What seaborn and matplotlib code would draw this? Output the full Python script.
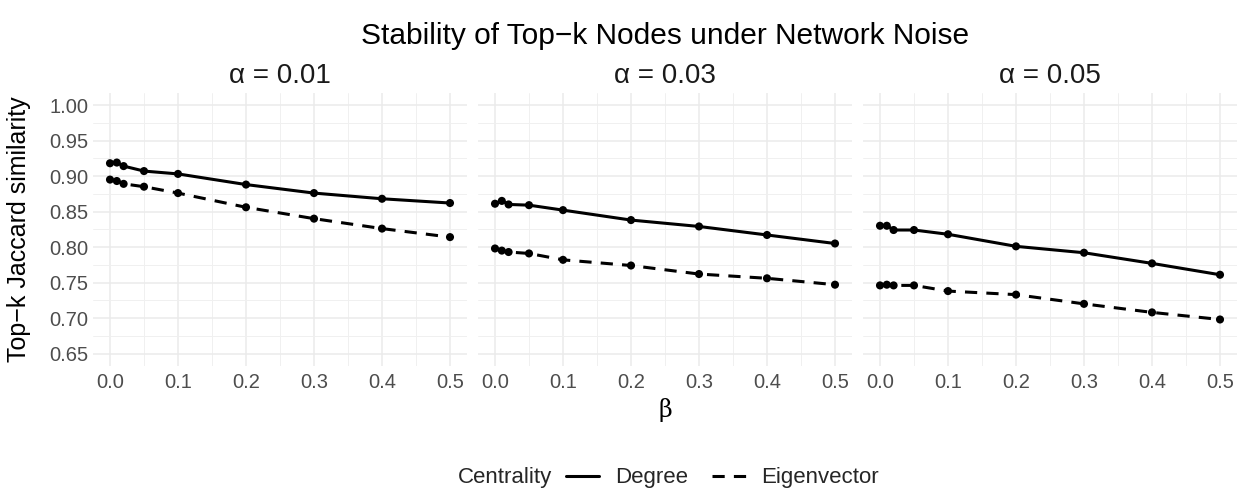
import numpy as np
import pandas as pd
import matplotlib
matplotlib.use("Agg")
import matplotlib.pyplot as plt
from matplotlib.lines import Line2D
from matplotlib.ticker import FixedLocator
import seaborn as sns

# ---- data ----
beta = [0.0, 0.01, 0.02, 0.05, 0.1, 0.2, 0.3, 0.4, 0.5]
alphas = [0.01, 0.03, 0.05]
alpha_labels = ["α = 0.01", "α = 0.03", "α = 0.05"]
degree_a001 = [0.918, 0.919, 0.914, 0.907, 0.903, 0.888, 0.876, 0.868, 0.862]
eigen_a001 = [0.895, 0.893, 0.889, 0.885, 0.876, 0.856, 0.840, 0.826, 0.814]
degree_a003 = [0.861, 0.865, 0.860, 0.859, 0.852, 0.838, 0.829, 0.817, 0.805]
eigen_a003 = [0.798, 0.795, 0.793, 0.791, 0.782, 0.774, 0.762, 0.756, 0.747]
degree_a005 = [0.830, 0.830, 0.824, 0.824, 0.818, 0.801, 0.792, 0.777, 0.761]
eigen_a005 = [0.746, 0.747, 0.746, 0.746, 0.738, 0.733, 0.720, 0.708, 0.698]
centralities = ["Degree", "Eigenvector"]
x_ticks = [0.0, 0.1, 0.2, 0.3, 0.4, 0.5]
x_ticklabels = ["0.0", "0.1", "0.2", "0.3", "0.4", "0.5"]
y_ticks = [0.65, 0.70, 0.75, 0.80, 0.85, 0.90, 0.95, 1.00]
y_ticklabels = ["0.65", "0.70", "0.75", "0.80", "0.85", "0.90", "0.95", "1.00"]

series = {
    0.01: (degree_a001, eigen_a001),
    0.03: (degree_a003, eigen_a003),
    0.05: (degree_a005, eigen_a005),
}
rows = []
for a in alphas:
    d, e = series[a]
    for b, v in zip(beta, d):
        rows.append({"alpha": a, "beta": b, "jaccard": v, "Centrality": "Degree"})
    for b, v in zip(beta, e):
        rows.append({"alpha": a, "beta": b, "jaccard": v, "Centrality": "Eigenvector"})
df = pd.DataFrame(rows)

sns.set_theme(style="white")
plt.rcParams["font.family"] = ["Liberation Sans", "DejaVu Sans"]

W, H = 1242, 496
fig = plt.figure(figsize=(W / 100, H / 100), dpi=100)

lefts = [93, 478, 863]
top_px, bot_px = 92.6, 366
pw = 374
dash = (4, 3)
LW = 2.2

for i, a in enumerate(alphas):
    ax = fig.add_axes([lefts[i] / W, 1 - bot_px / H, pw / W, (bot_px - top_px) / H])
    sub = df[df["alpha"] == a]
    sns.lineplot(data=sub, x="beta", y="jaccard", style="Centrality",
                 style_order=centralities, dashes={"Degree": "", "Eigenvector": dash},
                 color="black", linewidth=LW, ax=ax, legend=False)
    sns.scatterplot(data=sub, x="beta", y="jaccard", color="black", s=34,
                    edgecolor="none", ax=ax, legend=False, zorder=3)
    ax.set_xlim(-0.025, 0.525)
    ax.set_ylim(0.6325, 1.0175)
    ax.xaxis.set_major_locator(FixedLocator(x_ticks))
    ax.xaxis.set_minor_locator(FixedLocator([0.05, 0.15, 0.25, 0.35, 0.45]))
    ax.yaxis.set_major_locator(FixedLocator(y_ticks))
    ax.yaxis.set_minor_locator(FixedLocator([0.675, 0.725, 0.775, 0.825, 0.875, 0.925, 0.975]))
    ax.set_xticklabels(x_ticklabels)
    if i == 0:
        ax.set_yticklabels(y_ticklabels)
    else:
        ax.set_yticklabels([])
    ax.grid(which="major", color="#EBEBEB", linewidth=1.1)
    ax.grid(which="minor", color="#F0F0F0", linewidth=0.7)
    ax.set_axisbelow(True)
    for s in ax.spines.values():
        s.set_visible(False)
    ax.tick_params(which="both", length=0, labelsize=14.5, labelcolor="#4D4D4D")
    ax.tick_params(axis="x", pad=5)
    ax.tick_params(axis="y", pad=3.5)
    ax.set_xlabel("")
    ax.set_ylabel("")
    ax.set_title(alpha_labels[i], fontsize=20, color="#1A1A1A", pad=7)

fig.text(665 / W, 1 - 36 / H, "Stability of Top\u2212k Nodes under Network Noise",
         ha="center", va="center", fontsize=21.5, color="black")
fig.text(665 / W, 1 - 410 / H, "β", ha="center", va="center", fontsize=17,
         family=["DejaVu Serif"], color="black")
fig.text(19 / W, 1 - (top_px + bot_px) / 2 / H, "Top\u2212k Jaccard similarity",
         ha="center", va="center", rotation=90, fontsize=18, color="black")

handles = [Line2D([0], [0], color="black", lw=LW, linestyle="-"),
           Line2D([0], [0], color="black", lw=LW, linestyle=(0, dash))]
fig.text(552 / W, 1 - 478 / H, "Centrality", ha="right", va="center", fontsize=16)
fig.legend(handles, centralities, loc="center left", bbox_to_anchor=(566 / W, 1 - 478 / H),
           ncol=2, frameon=False, fontsize=16, handlelength=1.5, columnspacing=1.1,
           handletextpad=0.7, borderaxespad=0, borderpad=0)

fig.savefig("out.png", dpi=100)
